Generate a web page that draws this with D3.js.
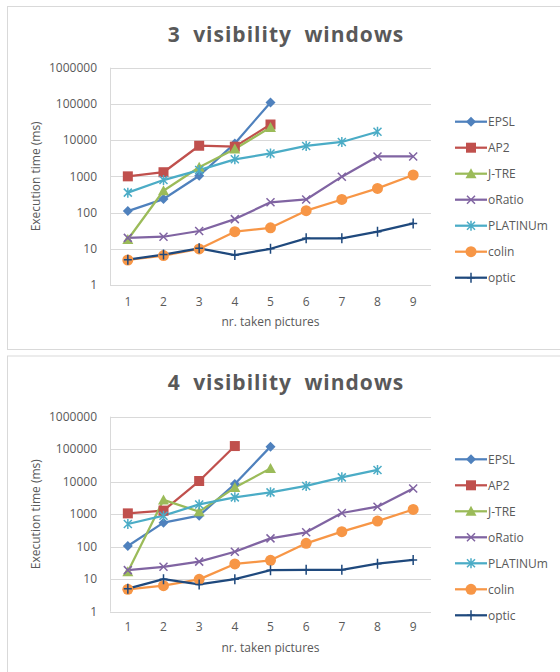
<!DOCTYPE html>
<html>
<head>
<meta charset="utf-8">
<script src="https://cdn.jsdelivr.net/npm/d3@7"></script>
<style>
  body { margin: 0; background: #fff; }
  svg { display: block; font-family: "Open Sans", "Noto Sans", sans-serif; }
</style>
</head>
<body>
<div id="chart"></div>
<script>
// Categories and legend
const pictures = [1, 2, 3, 4, 5, 6, 7, 8, 9];
const seriesNames = ["EPSL", "AP2", "J-TRE", "oRatio", "PLATINUm", "colin", "optic"];
const seriesColors = ["#4f81bd", "#c0504d", "#9bbb59", "#8064a2", "#4bacc6", "#f79646", "#1f497d"];
const seriesMarkers = ["diamond", "square", "triangle", "x", "star", "circle", "plus"];
const yTicks = [1, 10, 100, 1000, 10000, 100000, 1000000];

// 3 visibility windows
const epsl3 = [110, 236, 1040, 8100, 110000];
const ap2_3 = [1000, 1300, 7000, 6600, 27000];
const jtre3 = [18, 400, 1780, 5700, 22500];
const oratio3 = [20, 21.5, 31, 66, 192, 230, 980, 3550, 3550];
const platinum3 = [355, 790, 1490, 2950, 4300, 6900, 8900, 17000];
const colin3 = [4.9, 6.5, 9.9, 29.6, 38, 113, 230, 465, 1090];
const optic3 = [5, 6.9, 10.3, 6.7, 10, 19.4, 19.4, 29.6, 50];

// 4 visibility windows
const epsl4 = [105, 550, 900, 8500, 120000];
const ap2_4 = [1060, 1290, 10500, 125000];
const jtre4 = [17, 2750, 1200, 6600, 25700];
const oratio4 = [19, 24, 34.7, 70, 180, 277, 1090, 1700, 6200];
const platinum4 = [500, 900, 2000, 3300, 4700, 7400, 13600, 23000];
const colin4 = [4.9, 6.3, 9.9, 29.4, 38, 127, 290, 615, 1400];
const optic4 = [5.1, 10, 6.9, 10, 19, 19.5, 19.5, 30, 39];

const width = 560;
const height = 672;

const svg = d3.select("#chart")
    .append("svg")
    .attr("width", width)
    .attr("height", height)
    .attr("viewBox", [0, 0, width, height]);

// Draw one marker shape centered at 0,0
function marker(sel, type, color) {
    if (type === "diamond") {
        sel.append("path").attr("d", "M0,-5L5,0L0,5L-5,0Z").attr("fill", color);
    } else if (type === "square") {
        sel.append("rect").attr("x", -5).attr("y", -5).attr("width", 10).attr("height", 10).attr("fill", color);
    } else if (type === "triangle") {
        sel.append("path").attr("d", "M0,-5.5L5.5,4.5L-5.5,4.5Z").attr("fill", color);
    } else if (type === "circle") {
        sel.append("circle").attr("r", 5.5).attr("fill", color);
    } else if (type === "x") {
        sel.append("path").attr("d", "M-4,-4L4,4M-4,4L4,-4")
            .attr("stroke", color).attr("stroke-width", 1.5).attr("fill", "none");
    } else if (type === "star") {
        sel.append("path").attr("d", "M-4,-4L4,4M-4,4L4,-4M0,-5L0,5")
            .attr("stroke", color).attr("stroke-width", 1.5).attr("fill", "none");
    } else if (type === "plus") {
        sel.append("path").attr("d", "M-4,0L4,0M0,-5L0,5")
            .attr("stroke", color).attr("stroke-width", 1.5).attr("fill", "none");
    }
}

function drawChart(opts) {
    const { panelTop, panelHeight, titleY, plotTop, plotBottom, tickY, axisTitleY, legendTop, title, series } = opts;
    const plotLeft = 110;
    const plotRight = 431;

    // Panel frame
    svg.append("rect")
        .attr("x", 7.5)
        .attr("y", panelTop + 0.5)
        .attr("width", 560)
        .attr("height", panelHeight)
        .attr("fill", "#fff")
        .attr("stroke", "#d9d9d9")
        .attr("stroke-width", 1);

    const x = d3.scaleBand()
        .domain(pictures)
        .range([plotLeft, plotRight]);

    const y = d3.scaleLog()
        .domain([1, 1000000])
        .range([plotBottom, plotTop]);

    const g = svg.append("g");

    // Title
    g.append("text")
        .attr("x", 286)
        .attr("y", titleY)
        .attr("dy", "0.35em")
        .attr("text-anchor", "middle")
        .attr("fill", "#595959")
        .style("font-size", "21px")
        .style("font-weight", "bold")
        .style("letter-spacing", "1px")
        .style("word-spacing", "6px")
        .text(title);

    // Gridlines
    g.append("g")
        .selectAll("line")
        .data(yTicks)
        .join("line")
        .attr("x1", plotLeft)
        .attr("x2", plotRight)
        .attr("y1", (d) => Math.round(y(d)) + 0.5)
        .attr("y2", (d) => Math.round(y(d)) + 0.5)
        .attr("stroke", "#d9d9d9");

    // Vertical axis line
    g.append("line")
        .attr("x1", plotLeft + 0.5)
        .attr("x2", plotLeft + 0.5)
        .attr("y1", plotTop)
        .attr("y2", plotBottom)
        .attr("stroke", "#d9d9d9");

    // Y tick labels
    g.append("g")
        .selectAll("text")
        .data(yTicks)
        .join("text")
        .attr("x", plotLeft - 13)
        .attr("y", (d) => y(d))
        .attr("dy", "0.35em")
        .attr("text-anchor", "end")
        .attr("fill", "#595959")
        .style("font-size", "12px")
        .text((d) => d);

    // X tick labels
    g.append("g")
        .selectAll("text")
        .data(pictures)
        .join("text")
        .attr("x", (d) => x(d) + x.bandwidth() / 2)
        .attr("y", tickY)
        .attr("dy", "0.35em")
        .attr("text-anchor", "middle")
        .attr("fill", "#595959")
        .style("font-size", "12px")
        .text((d) => d);

    // Axis titles
    g.append("text")
        .attr("x", (plotLeft + plotRight) / 2)
        .attr("y", axisTitleY)
        .attr("dy", "0.35em")
        .attr("text-anchor", "middle")
        .attr("fill", "#595959")
        .style("font-size", "12px")
        .text("nr. taken pictures");

    g.append("text")
        .attr("transform", `translate(36,${(plotTop + plotBottom) / 2}) rotate(-90)`)
        .attr("dy", "0.35em")
        .attr("text-anchor", "middle")
        .attr("fill", "#595959")
        .style("font-size", "12px")
        .text("Execution time (ms)");

    // Lines and markers
    const line = d3.line()
        .x((d, i) => x(pictures[i]) + x.bandwidth() / 2)
        .y((d) => y(d));

    series.forEach((values, k) => {
        g.append("path")
            .datum(values)
            .attr("fill", "none")
            .attr("stroke", seriesColors[k])
            .attr("stroke-width", 2.25)
            .attr("stroke-linejoin", "round")
            .attr("d", line);
    });
    series.forEach((values, k) => {
        values.forEach((v, i) => {
            const m = g.append("g")
                .attr("transform", `translate(${x(pictures[i]) + x.bandwidth() / 2},${y(v)})`);
            marker(m, seriesMarkers[k], seriesColors[k]);
        });
    });

    // Legend
    const legend = g.append("g")
        .selectAll("g")
        .data(seriesNames)
        .join("g")
        .attr("transform", (d, i) => `translate(455,${legendTop + i * 26})`);

    legend.append("line")
        .attr("x1", 0)
        .attr("x2", 32)
        .attr("stroke", (d, i) => seriesColors[i])
        .attr("stroke-width", 2.25);

    legend.each(function (d, i) {
        const m = d3.select(this).append("g").attr("transform", "translate(16,0)");
        marker(m, seriesMarkers[i], seriesColors[i]);
    });

    legend.append("text")
        .attr("x", 33)
        .attr("dy", "0.35em")
        .attr("fill", "#595959")
        .style("font-size", "12px")
        .text((d) => d);
}

drawChart({
    panelTop: 6,
    panelHeight: 343,
    titleY: 35,
    plotTop: 67.7,
    plotBottom: 285,
    tickY: 301.5,
    axisTitleY: 321.5,
    legendTop: 121.7,
    title: "3 visibility windows",
    series: [epsl3, ap2_3, jtre3, oratio3, platinum3, colin3, optic3]
});

drawChart({
    panelTop: 355.5,
    panelHeight: 330,
    titleY: 383,
    plotTop: 416.7,
    plotBottom: 611.7,
    tickY: 627,
    axisTitleY: 648,
    legendTop: 459.3,
    title: "4 visibility windows",
    series: [epsl4, ap2_4, jtre4, oratio4, platinum4, colin4, optic4]
});
</script>
</body>
</html>
